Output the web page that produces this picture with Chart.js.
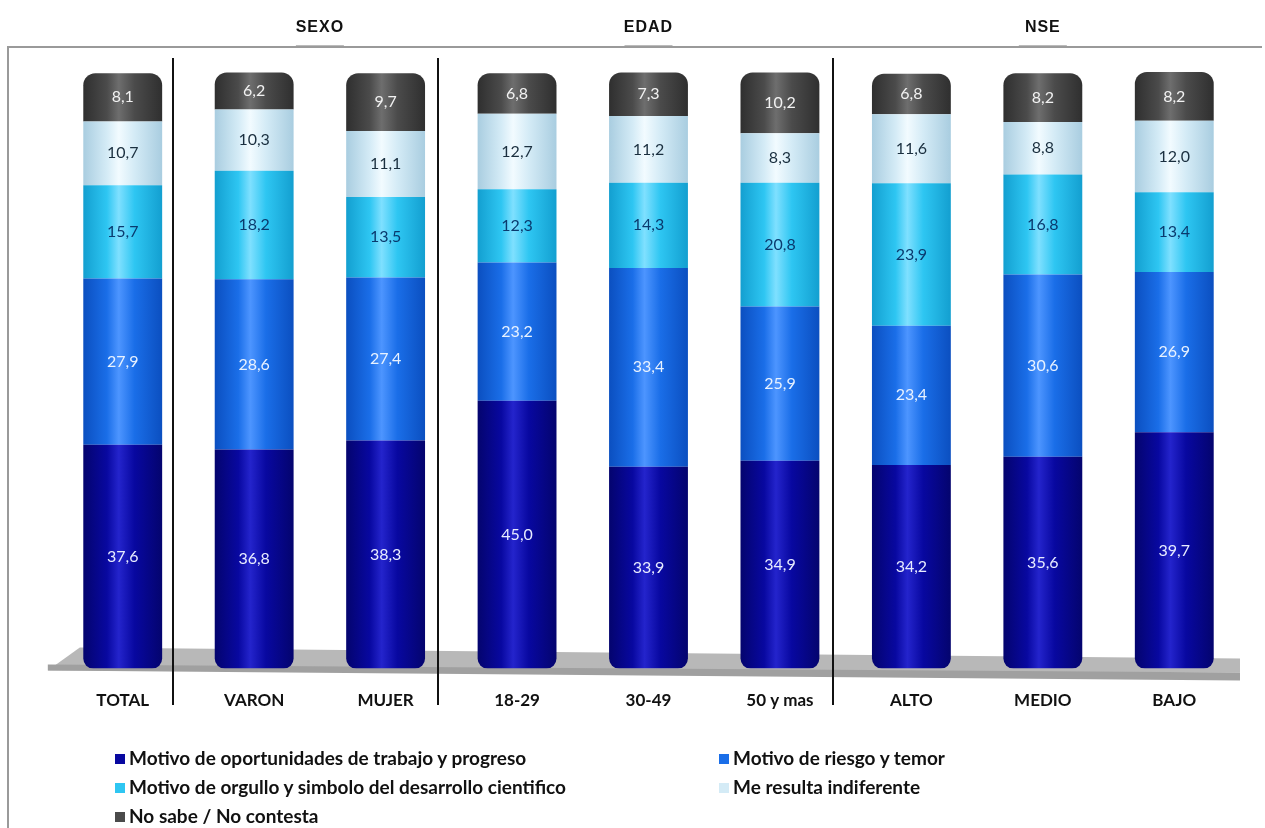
<!DOCTYPE html>
<html>
<head>
<meta charset="utf-8">
<script src="https://cdn.jsdelivr.net/npm/chart.js@4"></script>
<style>
  body { margin: 0; background: #fff; }
  #wrap { position: relative; width: 1265px; height: 828px; }
  #chart { position: absolute; left: 0; top: 0; }
  #legend { position: absolute; left: 0; top: 744px; width: 1265px; font-family: Lato, sans-serif; font-weight: bold; font-size: 19px; color: #111; }
  .item { position: absolute; height: 24px; line-height: 24px; white-space: nowrap; }
  .box { display: inline-block; width: 10px; height: 10px; margin-right: 4px; vertical-align: 1px; }
</style>
</head>
<body>
<div id="wrap">
  <canvas id="chart" width="1265" height="828"></canvas>
  <div id="legend"></div>
</div>
<script>
// ===== Data =====
const categories = ["TOTAL", "VARON", "MUJER", "18-29", "30-49", "50 y mas", "ALTO", "MEDIO", "BAJO"];
const groups = ["SEXO", "EDAD", "NSE"];

const trabajo     = [37.6, 36.8, 38.3, 45.0, 33.9, 34.9, 34.2, 35.6, 39.7];
const riesgo      = [27.9, 28.6, 27.4, 23.2, 33.4, 25.9, 23.4, 30.6, 26.9];
const orgullo     = [15.7, 18.2, 13.5, 12.3, 14.3, 20.8, 23.9, 16.8, 13.4];
const indiferente = [10.7, 10.3, 11.1, 12.7, 11.2, 8.3, 11.6, 8.8, 12.0];
const nsnc        = [8.1, 6.2, 9.7, 6.8, 7.3, 10.2, 6.8, 8.2, 8.2];

const seriesNames = [
  "Motivo de oportunidades de trabajo y progreso",
  "Motivo de riesgo y temor",
  "Motivo de orgullo y simbolo del desarrollo cientifico",
  "Me resulta indiferente",
  "No sabe / No contesta"
];

// colours: [dark edge, base, highlight, label colour]
const palette = [
  ["#04046e", "#0808a0", "#2424cc", "#e8ecff"],
  ["#0b4fc0", "#1a6ee8", "#4d95ff", "#e8f2ff"],
  ["#139fd0", "#2ec6f2", "#7fe0ff", "#0a3a6e"],
  ["#a9cde0", "#d4ebf6", "#f2fbff", "#1a2f3f"],
  ["#2f2f2f", "#4b4b4b", "#6e6e6e", "#f2f2f2"]
];

// ===== Cylinder shading =====
function cylinder(i) {
  return (ctx) => {
    const c = palette[i];
    const chart = ctx.chart;
    const xs = chart.scales && chart.scales.x;
    if (ctx.type !== "data" || !xs || !chart.chartArea) return c[1];
    const cx = xs.getPixelForValue(ctx.dataIndex);
    const w = xs.width / categories.length * 0.6;
    const g = chart.ctx.createLinearGradient(cx - w / 2, 0, cx + w / 2, 0);
    g.addColorStop(0, c[0]);
    g.addColorStop(0.3, c[1]);
    g.addColorStop(0.45, c[2]);
    g.addColorStop(0.65, c[1]);
    g.addColorStop(1, c[0]);
    return g;
  };
}

const values = [trabajo, riesgo, orgullo, indiferente, nsnc];
const datasets = values.map((v, i) => ({
  label: seriesNames[i],
  data: v,
  backgroundColor: cylinder(i),
  borderWidth: 0,
  borderSkipped: false,
  borderRadius: i === 4 ? { topLeft: 12, topRight: 12, bottomLeft: 0, bottomRight: 0 }
              : i === 0 ? { topLeft: 0, topRight: 0, bottomLeft: 10, bottomRight: 10 } : 0
}));

// ===== Decorations: frame, floor, separators, group titles =====
const decorPlugin = {
  id: "decor",
  beforeDatasetsDraw(chart) {
    const { ctx, chartArea } = chart;
    const xs = chart.scales.x;
    ctx.save();
    // outer frame (top + left)
    ctx.strokeStyle = "#9a9a9a";
    ctx.lineWidth = 2;
    ctx.beginPath();
    ctx.moveTo(8, 828);
    ctx.lineTo(8, 47);
    ctx.lineTo(1262, 47);
    ctx.stroke();
    // floor slab
    const b = chartArea.bottom;
    const x0 = xs.getPixelForValue(-0.57);
    const x1 = xs.getPixelForValue(8.5);
    ctx.fillStyle = "#b8b8b8";
    ctx.beginPath();
    ctx.moveTo(x0 + 32, b - 21);
    ctx.lineTo(x1, b - 10);
    ctx.lineTo(x1, b + 4);
    ctx.lineTo(x0, b + 2);
    ctx.closePath();
    ctx.fill();
    ctx.fillStyle = "#a0a0a0";
    ctx.beginPath();
    ctx.moveTo(x0, b - 4);
    ctx.lineTo(x1, b + 4);
    ctx.lineTo(x1, b + 12);
    ctx.lineTo(x0, b + 2);
    ctx.closePath();
    ctx.fill();
    ctx.restore();
  },
  afterDatasetsDraw(chart) {
    const { ctx } = chart;
    const xs = chart.scales.x;
    ctx.save();
    // group separators
    ctx.strokeStyle = "#111";
    ctx.lineWidth = 2;
    [0.38, 2.4, 5.4].forEach(v => {
      const x = Math.round(xs.getPixelForValue(v));
      ctx.beginPath();
      ctx.moveTo(x, 58);
      ctx.lineTo(x, 705);
      ctx.stroke();
    });
    // group titles
    ctx.fillStyle = "#111";
    ctx.font = "bold 16px 'Liberation Sans', Arial, sans-serif";
    ctx.letterSpacing = "1px";
    ctx.textAlign = "center";
    ctx.textBaseline = "middle";
    [1.5, 4, 7].forEach((v, i) => {
      const x = xs.getPixelForValue(v);
      ctx.fillText(groups[i], x, 28);
      ctx.fillStyle = "#bbb";
      ctx.fillRect(x - 24, 45, 48, 1);
      ctx.fillStyle = "#111";
    });
    ctx.restore();
  }
};

// ===== Value labels =====
const labelPlugin = {
  id: "valueLabels",
  afterDatasetsDraw(chart) {
    const { ctx } = chart;
    ctx.save();
    ctx.font = "16px Lato, sans-serif";
    ctx.textAlign = "center";
    ctx.textBaseline = "middle";
    chart.data.datasets.forEach((ds, i) => {
      ctx.fillStyle = palette[i][3];
      chart.getDatasetMeta(i).data.forEach((bar, j) => {
        const y = (bar.y + bar.base) / 2;
        ctx.fillText(ds.data[j].toFixed(1).replace(".", ","), bar.x, y);
      });
    });
    ctx.restore();
  }
};

new Chart(document.getElementById("chart"), {
  type: "bar",
  data: { labels: categories, datasets: datasets },
  options: {
    responsive: false,
    animation: false,
    layout: { padding: { left: 57, right: 25, top: 72, bottom: 103 } },
    plugins: { legend: { display: false }, tooltip: { enabled: false } },
    datasets: { bar: { barPercentage: 0.6, categoryPercentage: 1 } },
    scales: {
      x: {
        stacked: true,
        grid: { display: false },
        border: { display: false },
        ticks: { color: "#111", padding: 14, font: { family: "Lato", weight: "bold", size: 17 } }
      },
      y: { stacked: true, display: false, min: 0, max: 100.2 }
    }
  },
  plugins: [decorPlugin, labelPlugin]
});

// ===== HTML legend (two columns) =====
const legendEl = document.getElementById("legend");
const legendPos = [[115, 2], [719, 2], [115, 31], [719, 31], [115, 60]];
seriesNames.forEach((name, i) => {
  const item = document.createElement("div");
  item.className = "item";
  item.style.left = legendPos[i][0] + "px";
  item.style.top = legendPos[i][1] + "px";
  item.innerHTML = '<span class="box" style="background:' + palette[i][1] + '"></span>' + name;
  legendEl.appendChild(item);
});
</script>
</body>
</html>
